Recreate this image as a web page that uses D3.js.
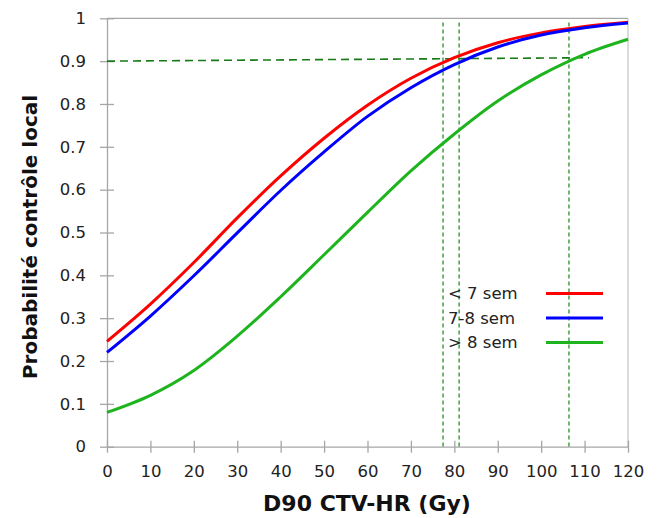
<!DOCTYPE html>
<html>
<head>
<meta charset="utf-8">
<script src="https://cdn.jsdelivr.net/npm/d3@7"></script>
<style>
  html, body { margin: 0; padding: 0; background: #fff; }
  svg { display: block; }
</style>
</head>
<body>
<svg id="chart" width="660" height="518"></svg>
<script>
// ---- data ----
const doses = [0, 10, 20, 30, 40, 50, 60, 70, 80, 90, 100, 110, 120];
const seriesNames = ["< 7 sem", "7-8 sem", "> 8 sem"];
const lt7 = [0.246, 0.333, 0.430, 0.534, 0.632, 0.720, 0.797, 0.860, 0.908, 0.943, 0.966, 0.981, 0.991];
const w78 = [0.220, 0.305, 0.399, 0.499, 0.598, 0.688, 0.771, 0.838, 0.892, 0.933, 0.961, 0.978, 0.989];
const gt8 = [0.080, 0.120, 0.178, 0.258, 0.350, 0.448, 0.547, 0.644, 0.730, 0.807, 0.868, 0.916, 0.951];
const xTicks = [0, 10, 20, 30, 40, 50, 60, 70, 80, 90, 100, 110, 120];
const yTicks = [0, 0.1, 0.2, 0.3, 0.4, 0.5, 0.6, 0.7, 0.8, 0.9, 1];
const yTickLabels = ["0", "0.1", "0.2", "0.3", "0.4", "0.5", "0.6", "0.7", "0.8", "0.9", "1"];
const refH = [[0, 0.9], [111, 0.908]];
const refV = [77.4, 81.1, 106.4];
const refVRange = [0, 0.99];
const xTitle = "D90 CTV-HR (Gy)";
const yTitle = "Probabilité contrôle local";

// ---- layout ----
const colors = ["#ff0000", "#0000ff", "#1eb41e"];
const svg = d3.select("#chart");
const x = d3.scaleLinear().domain([0, 120]).range([107, 628]);
const y = d3.scaleLinear().domain([0, 1]).range([446.7, 18.3]);
const axisColor = "#a6a6a6";
const font = "'DejaVu Sans', Verdana, sans-serif";

// plot border (top & right)
svg.append("line").attr("x1", x(0)).attr("x2", x(120)).attr("y1", y(1)).attr("y2", y(1))
  .attr("stroke", axisColor).attr("stroke-width", 1.3);
svg.append("line").attr("x1", x(120)).attr("x2", x(120)).attr("y1", y(1)).attr("y2", y(0))
  .attr("stroke", "#c8c8c8").attr("stroke-width", 1.3);

// y axis
const yAxis = svg.append("g").attr("transform", `translate(${x(0)},0)`)
  .call(d3.axisLeft(y).tickValues(yTicks).tickSizeInner(7).tickSizeOuter(0).tickPadding(14)
    .tickFormat((d, i) => yTickLabels[i]));
yAxis.selectAll(".tick line").attr("x2", -7).attr("x1", 7);
// x axis
const xAxis = svg.append("g").attr("transform", `translate(0,${y(0)})`)
  .call(d3.axisBottom(x).tickValues(xTicks).tickSizeInner(6).tickSizeOuter(0).tickPadding(13)
    .tickFormat(d => String(d)));
xAxis.selectAll(".tick line").attr("y1", -6).attr("y2", 6);
[yAxis, xAxis].forEach(g => {
  g.selectAll("path, line").attr("stroke", axisColor).attr("stroke-width", 1.3);
  g.selectAll("text").attr("font-family", font).attr("font-size", 16.5).attr("fill", "#222");
});

// reference lines
svg.append("path")
  .attr("d", d3.line().x(d => x(d[0])).y(d => y(d[1]))(refH))
  .attr("fill", "none").attr("stroke", "#177a17").attr("stroke-width", 1.6)
  .attr("stroke-dasharray", "8,5");
svg.selectAll(".vref").data(refV).enter().append("line")
  .attr("class", "vref")
  .attr("x1", d => x(d)).attr("x2", d => x(d))
  .attr("y1", y(refVRange[1])).attr("y2", y(refVRange[0]))
  .attr("stroke", "#2a8f2a").attr("stroke-width", 1.3).attr("stroke-dasharray", "4,3");

// curves
const allSeries = [lt7, w78, gt8];
const line = d3.line().x((d, i) => x(doses[i])).y(d => y(d)).curve(d3.curveCatmullRom.alpha(0.5));
svg.selectAll(".curve").data(allSeries).enter().append("path")
  .attr("class", "curve")
  .attr("d", d => line(d))
  .attr("fill", "none")
  .attr("stroke", (d, i) => colors[i])
  .attr("stroke-width", 3)
  .attr("stroke-linejoin", "round");

// legend
const leg = svg.append("g");
seriesNames.forEach((name, i) => {
  const yy = 293.5 + i * 24.5;
  leg.append("text").attr("x", 448).attr("y", yy).attr("dy", "0.35em")
    .attr("font-family", font).attr("font-size", 16.5).attr("fill", "#222").text(name);
  leg.append("line").attr("x1", 546).attr("x2", 603).attr("y1", yy).attr("y2", yy)
    .attr("stroke", colors[i]).attr("stroke-width", 3);
});

// titles
svg.append("text").attr("x", 367).attr("y", 511).attr("text-anchor", "middle")
  .attr("font-family", font).attr("font-weight", "bold").attr("font-size", 22)
  .attr("fill", "#111").text(xTitle);
svg.append("text").attr("transform", `translate(37,237) rotate(-90)`).attr("text-anchor", "middle")
  .attr("font-family", font).attr("font-weight", "bold").attr("font-size", 20)
  .attr("fill", "#111").text(yTitle);
</script>
</body>
</html>
